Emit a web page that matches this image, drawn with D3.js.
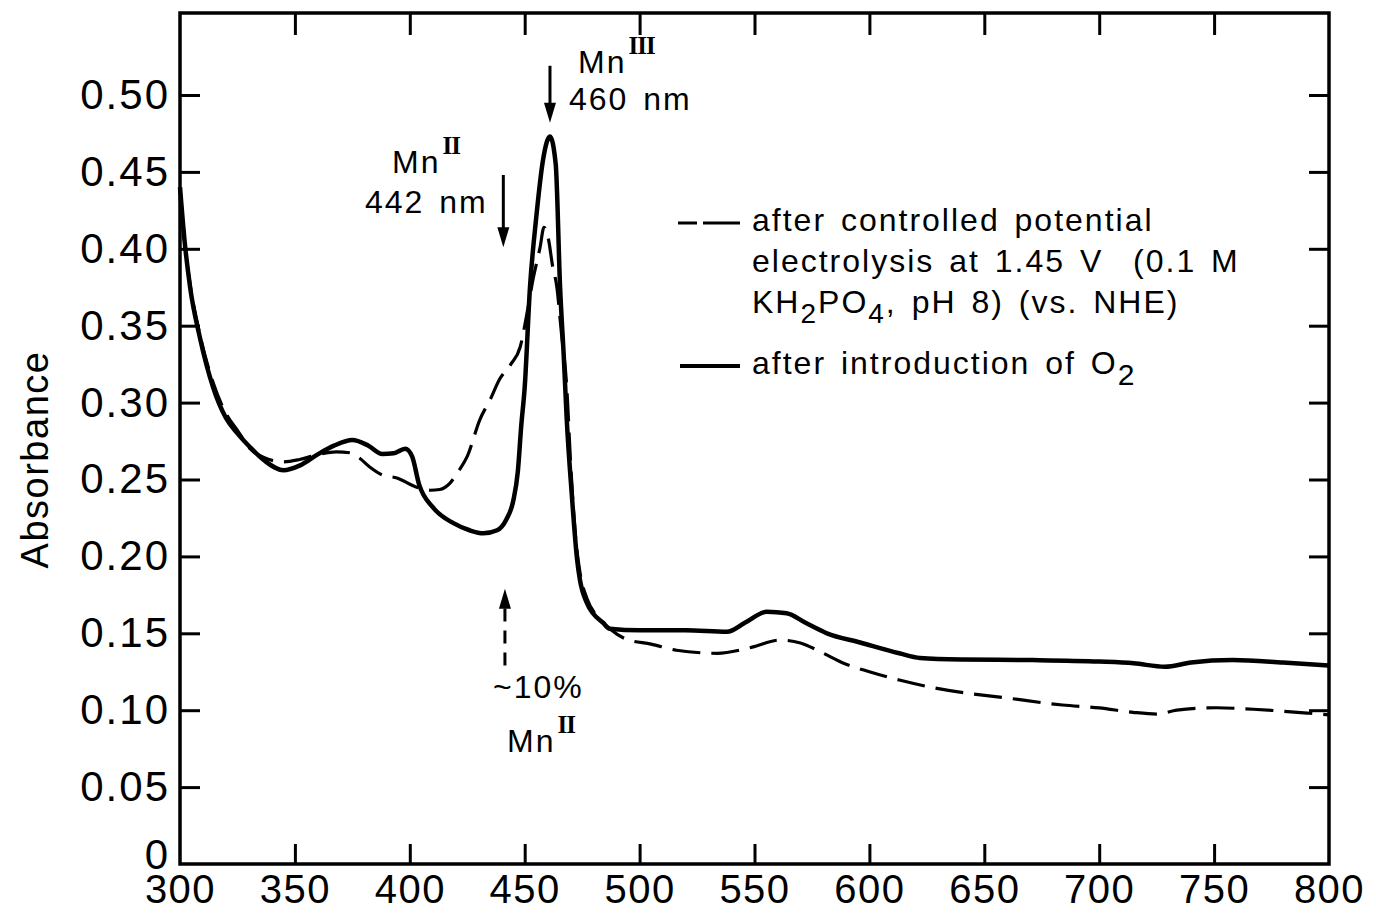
<!DOCTYPE html>
<html>
<head>
<meta charset="utf-8">
<script src="https://cdn.jsdelivr.net/npm/d3@7"></script>
<style>
  body { margin: 0; background: #fff; }
  svg { display: block; font-family: "Liberation Sans", Arial, sans-serif; }
  .lbl { font-size: 32px; letter-spacing: 2px; word-spacing: 4px; white-space: pre; fill: #000; }
  .roman { font-family: "Liberation Serif", serif; font-weight: bold; font-size: 25px; letter-spacing: -1px; }
</style>
</head>
<body>
<div id="chart"></div>
<script>
// wavelength (nm) / absorbance
var o2Wl = [300, 302, 304.4, 308.7, 314.4, 320, 325, 330.5, 337, 345, 352, 359.6, 367, 375, 382, 388, 393, 398, 401, 404,
  410, 419, 426, 432, 438, 442, 445, 447, 448.5, 450, 452.3, 455, 458, 461, 463.5, 465.4, 467, 468.3, 470.5, 472.8,
  474, 477, 479.7, 484, 487, 500, 520, 538, 546, 555.4, 564, 572, 581.5, 596, 613, 622, 640, 671, 700, 715,
  728.6, 740, 758, 780, 800];
var o2Abs = [0.44, 0.405, 0.375, 0.342, 0.31, 0.29, 0.28, 0.271, 0.262, 0.256, 0.259, 0.266, 0.272, 0.2757, 0.272, 0.2666, 0.267, 0.27, 0.265, 0.247,
  0.232, 0.2216, 0.217, 0.215, 0.217, 0.224, 0.236, 0.255, 0.285, 0.31, 0.375, 0.42, 0.458, 0.473, 0.455, 0.375, 0.33, 0.289, 0.24, 0.198,
  0.185, 0.17, 0.163, 0.157, 0.153, 0.152, 0.152, 0.151, 0.157, 0.164, 0.163, 0.157, 0.15, 0.144, 0.137, 0.134, 0.133, 0.1326, 0.1316, 0.1305,
  0.1283, 0.131, 0.1326, 0.131, 0.129];

var elWl = [300, 302, 304.4, 308.7, 314.4, 320, 325, 330.5, 337, 345, 352, 359.6, 368, 374, 378, 382.7, 388, 394.4, 403, 409,
  413, 417.5, 421, 425, 430.5, 435, 439, 444, 448, 451, 453.6, 456.7, 458.4, 460.5, 462, 464, 466, 468.3, 470, 472,
  474, 477, 481, 487, 494.5, 505, 516, 533.7, 549, 561, 570, 580, 588.5, 600, 613, 630, 661, 684, 700, 714.7,
  725, 733.8, 751, 767, 791.7, 800];
var elAbs = [0.44, 0.405, 0.377, 0.344, 0.313, 0.293, 0.282, 0.27, 0.264, 0.2615, 0.263, 0.266, 0.268, 0.2674, 0.264, 0.258, 0.253, 0.251, 0.245, 0.243,
  0.2435, 0.2477, 0.255, 0.265, 0.289, 0.302, 0.315, 0.325, 0.336, 0.358, 0.38, 0.401, 0.414, 0.405, 0.39, 0.375, 0.345, 0.31, 0.26, 0.215,
  0.19, 0.173, 0.162, 0.153, 0.146, 0.143, 0.139, 0.137, 0.141, 0.1456, 0.1437, 0.137, 0.1307, 0.125, 0.1196, 0.114, 0.1077, 0.1034, 0.1015, 0.0986,
  0.0975, 0.1, 0.1016, 0.1006, 0.098, 0.097];

var xTicks = [300, 350, 400, 450, 500, 550, 600, 650, 700, 750, 800];
var yTicks = [0, 0.05, 0.10, 0.15, 0.20, 0.25, 0.30, 0.35, 0.40, 0.45, 0.50];

var width = 1376, height = 916;
var plotL = 180, plotR = 1329, plotT = 13, plotB = 864;

var x = d3.scaleLinear().domain([300, 800]).range([plotL, plotR]);
var y = d3.scaleLinear().domain([0, 0.5]).range([plotB, 95]);

var svg = d3.select("#chart").append("svg")
  .attr("width", width)
  .attr("height", height);

// frame
svg.append("rect")
  .attr("x", plotL).attr("y", plotT)
  .attr("width", plotR - plotL).attr("height", plotB - plotT)
  .attr("fill", "none").attr("stroke", "#000").attr("stroke-width", 3.5);

var inner = xTicks.slice(1, -1);

// bottom axis, ticks point inward
var xAxis = svg.append("g")
  .attr("transform", "translate(0," + plotB + ")")
  .call(d3.axisBottom(x).tickValues(xTicks).tickSizeInner(-20).tickSizeOuter(0).tickPadding(11));
xAxis.select(".domain").remove();
xAxis.selectAll(".tick line").attr("stroke-width", 3)
  .filter(function (d) { return d === 300 || d === 800; }).remove();
xAxis.selectAll("text").attr("font-size", 40).attr("letter-spacing", 1.5).attr("fill", "#000")
  .attr("font-family", "Liberation Sans, Arial, sans-serif");

// top ticks
var xTop = svg.append("g")
  .attr("transform", "translate(0," + plotT + ")")
  .call(d3.axisTop(x).tickValues(inner).tickSizeInner(-22).tickSizeOuter(0).tickFormat(""));
xTop.select(".domain").remove();
xTop.selectAll(".tick line").attr("stroke-width", 3);

// left axis
var yAxis = svg.append("g")
  .attr("transform", "translate(" + plotL + ",0)")
  .call(d3.axisLeft(y).tickValues(yTicks).tickSizeInner(-20).tickSizeOuter(0).tickPadding(10)
    .tickFormat(function (d) { return d === 0 ? "0" : d3.format(".2f")(d); }));
yAxis.select(".domain").remove();
yAxis.selectAll(".tick line").attr("stroke-width", 3)
  .filter(function (d) { return d === 0; }).remove();
yAxis.selectAll("text").attr("font-size", 42).attr("letter-spacing", 2).attr("fill", "#000")
  .attr("font-family", "Liberation Sans, Arial, sans-serif");
yAxis.selectAll(".tick text").filter(function (d) { return d === 0; }).attr("dy", "0.1em");

// right ticks
var yRight = svg.append("g")
  .attr("transform", "translate(" + plotR + ",0)")
  .call(d3.axisRight(y).tickValues(yTicks.slice(1)).tickSizeInner(-20).tickSizeOuter(0).tickFormat(""));
yRight.select(".domain").remove();
yRight.selectAll(".tick line").attr("stroke-width", 3);

// y title
svg.append("text")
  .attr("transform", "translate(48," + ((plotB + 95) / 2 - 20) + ") rotate(-90)")
  .attr("text-anchor", "middle")
  .attr("font-size", 38)
  .attr("letter-spacing", 1.5)
  .text("Absorbance");

// curves
var line = d3.line()
  .x(function (d) { return x(d[0]); })
  .y(function (d) { return y(d[1]); })
  .curve(d3.curveMonotoneX);

svg.append("path")
  .datum(d3.zip(elWl, elAbs))
  .attr("d", line)
  .attr("fill", "none").attr("stroke", "#000").attr("stroke-width", 3.2)
  .attr("stroke-dasharray", "28,11");

svg.append("path")
  .datum(d3.zip(o2Wl, o2Abs))
  .attr("d", line)
  .attr("fill", "none").attr("stroke", "#000").attr("stroke-width", 4.5)
  .attr("stroke-linejoin", "round");

// arrows
function arrow(wl, a0, a1, dashed) {
  var ax = x(wl), y0 = y(a0), y1 = y(a1);
  var dir = y1 > y0 ? 1 : -1;
  svg.append("line")
    .attr("x1", ax).attr("x2", ax)
    .attr("y1", y0).attr("y2", y1 - dir * 16)
    .attr("stroke", "#000").attr("stroke-width", 3)
    .attr("stroke-dasharray", dashed ? "13,9" : null);
  svg.append("path")
    .attr("d", "M" + (ax - 6) + "," + (y1 - dir * 20) + "L" + (ax + 6) + "," + (y1 - dir * 20) + "L" + ax + "," + y1 + "Z")
    .attr("fill", "#000");
}

arrow(461, 0.519, 0.482, false);
arrow(440.7, 0.448, 0.401, false);
arrow(441.4, 0.129, 0.179, true);

function mnLabel(px, py, roman) {
  var t = svg.append("text").attr("class", "lbl").attr("x", px).attr("y", py).text("Mn");
  t.append("tspan").attr("class", "roman").attr("dx", 2).attr("dy", -19).text(roman);
}

mnLabel(578, 73, "III");
svg.append("text").attr("class", "lbl").attr("x", 569).attr("y", 110).text("460 nm");

mnLabel(392, 173, "II");
svg.append("text").attr("class", "lbl").attr("x", 365).attr("y", 213).text("442 nm");

svg.append("text").attr("class", "lbl").attr("x", 493).attr("y", 698).text("~10%");
mnLabel(507, 752, "II");

// legend
var lx = 752;
svg.append("line")
  .attr("x1", 678).attr("x2", 740).attr("y1", 223).attr("y2", 223)
  .attr("stroke", "#000").attr("stroke-width", 3)
  .attr("stroke-dasharray", "19,6,40");
svg.append("text").attr("class", "lbl").attr("x", lx).attr("y", 231).text("after controlled potential");
svg.append("text").attr("class", "lbl").attr("x", lx).attr("y", 272).text("electrolysis at 1.45 V  (0.1 M");

var l3 = svg.append("text").attr("class", "lbl").attr("x", lx).attr("y", 313).text("KH");
l3.append("tspan").attr("dy", 10).attr("font-size", 28).text("2");
l3.append("tspan").attr("dy", -10).text("PO");
l3.append("tspan").attr("dy", 10).attr("font-size", 28).text("4");
l3.append("tspan").attr("dy", -10).text(", pH 8) (vs. NHE)");

svg.append("line")
  .attr("x1", 680).attr("x2", 740).attr("y1", 366).attr("y2", 366)
  .attr("stroke", "#000").attr("stroke-width", 4);
var l4 = svg.append("text").attr("class", "lbl").attr("x", lx).attr("y", 374).text("after introduction of O");
l4.append("tspan").attr("dy", 11).attr("font-size", 30).text("2");
</script>
</body>
</html>
